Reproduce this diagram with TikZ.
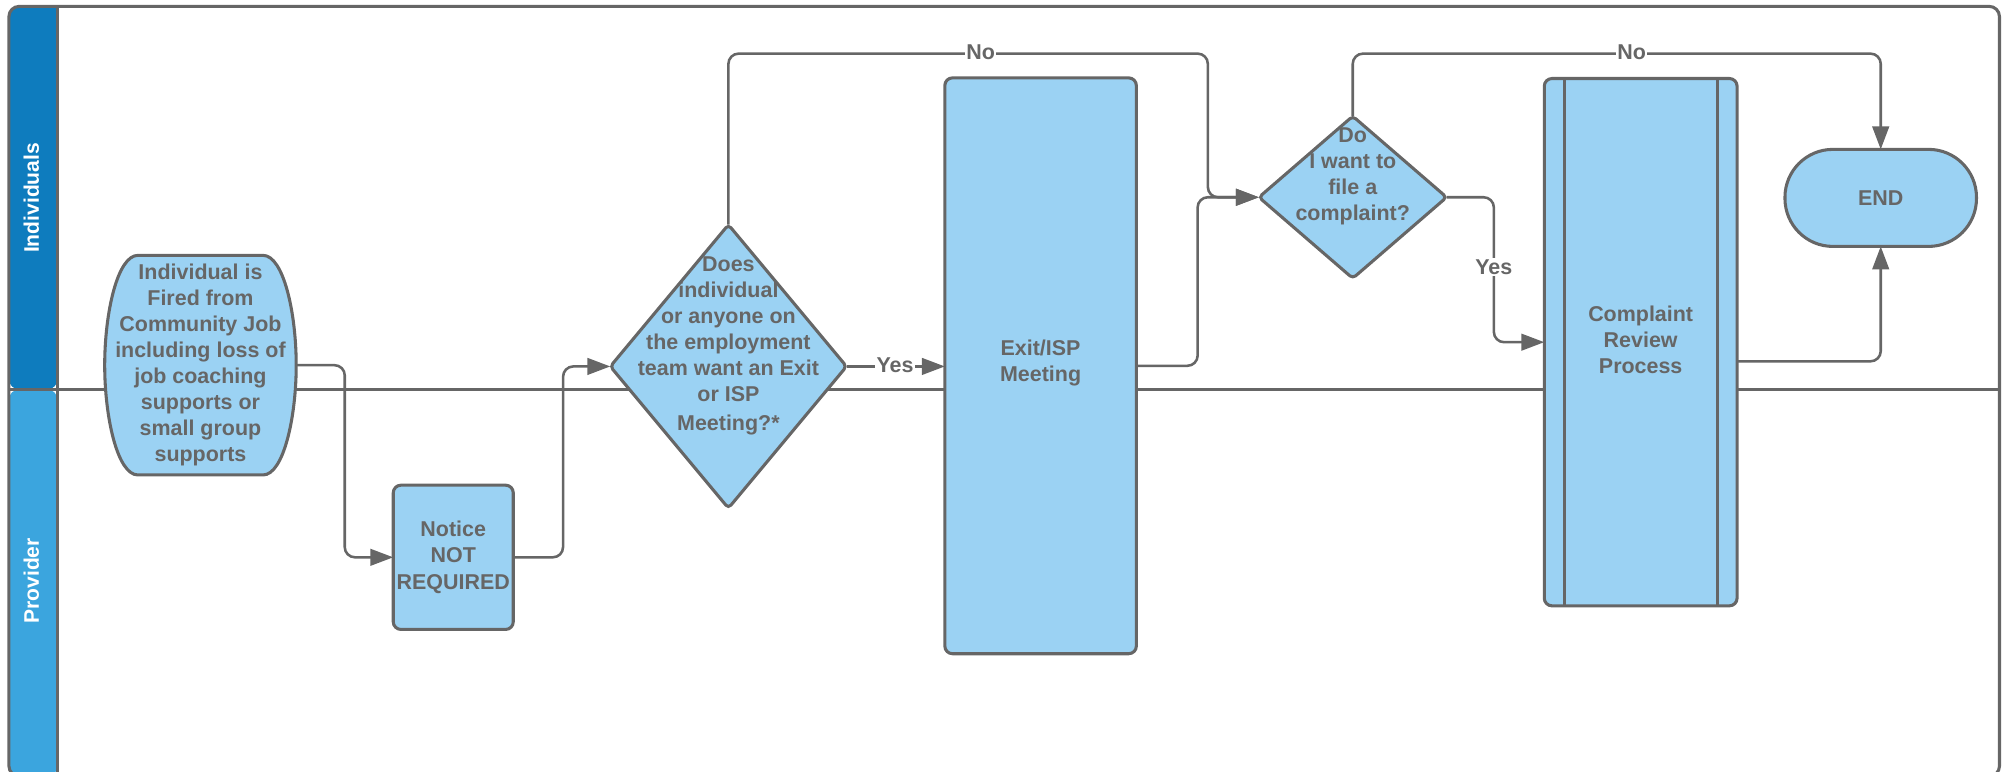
\documentclass[tikz,border=0pt]{standalone}
\usepackage{fontspec}
\setmainfont{Liberation Sans}
\usetikzlibrary{arrows.meta,shapes.geometric,calc}
\definecolor{lgray}{RGB}{102,102,102}
\definecolor{hdark}{RGB}{14,124,190}
\definecolor{hlight}{RGB}{59,165,222}
\definecolor{nfill}{RGB}{155,210,243}
\tikzset{
  box/.style={draw=lgray, fill=nfill, line width=2.4pt, inner sep=0pt, outer sep=0pt, align=center},
  conn/.style={draw=lgray, line width=2pt, rounded corners=8pt, -{Triangle[length=18pt,width=13pt]}},
  lbl/.style={fill=white, inner sep=1pt, text=lgray},
  txt/.style={align=center, inner sep=0pt, text=lgray},
  lanetxt/.style={text=white, font=\bfseries\fontsize{16.5}{20}\selectfont, rotate=90, inner sep=0pt},
  frameline/.style={draw=lgray, line width=2.4pt}
}
\begin{document}
\begin{tikzpicture}[x=1pt, y=-1pt, font=\bfseries\fontsize{16.8}{20.4}\selectfont, text=lgray]
\useasboundingbox (0,0) rectangle (1568,604);
\clip (0,0) rectangle (1568,604);

% lane headers
\fill[hdark, rounded corners=8pt] (7,305) -- (7,5) -- (45,5) -- (45,305) -- cycle;
\fill[hlight, rounded corners=8pt] (7,305) -- (7,608) -- (45,608) -- (45,305) -- cycle;
\fill[hdark] (20,5) rectangle (45,20);
% frame
\draw[frameline, rounded corners=8pt] (7,608) -- (7,5) -- (1566,5) -- (1566,608) -- cycle;
\draw[frameline] (45,5) -- (45,608);
\draw[frameline] (7,305) -- (1566,305);
\node[lanetxt] (laneI) at (24.5,155) {Individuals};
\node[lanetxt] (laneP) at (24.5,455) {Provider};

% start node (outline drawn directly)
\draw[box] (108,200) -- (206,200)
  .. controls (222,200) and (232,245) .. (232,286)
  .. controls (232,327) and (222,372) .. (206,372)
  -- (108,372)
  .. controls (92,372) and (82,327) .. (82,286)
  .. controls (82,245) and (92,200) .. (108,200) -- cycle;
\node[txt, minimum width=150pt, minimum height=172pt, outer sep=0pt] (start) at (157,286)
  {Individual is\\Fired from\\Community Job\\including loss of\\job coaching\\supports or\\small group\\supports};

% notice
\node[box, rounded corners=6pt, minimum width=94pt, minimum height=113pt] (notice) at (355,436.5)
  {Notice\\NOT\\REQUIRED};

% decision 1
\node[box, diamond, minimum width=185pt, minimum height=222pt, rounded corners=3pt] (d1) at (570.5,287) {};
\node[txt] (d1t) at (570.5,271)
  {Does\\individual\\or anyone on\\the employment\\team want an Exit\\or ISP\\[2.5pt]Meeting?*};

% exit meeting
\node[box, rounded corners=6pt, minimum width=150pt, minimum height=451pt] (exit) at (815,286.5) {};
\node[txt] (exitt) at (815,284.5) {Exit/ISP\\Meeting};

% decision 2
\node[box, diamond, minimum width=147pt, minimum height=127pt, rounded corners=3pt] (d2) at (1059.5,154.5) {};
\node[txt] (d2t) at (1059.5,138) {Do\\I want to\\file a\\complaint?};

% complaint review process
\node[box, rounded corners=6pt, minimum width=151pt, minimum height=413pt] (crp) at (1285,268) {};
\draw[lgray, line width=2.4pt] ($(crp.north west)+(15.5,0)$) -- ($(crp.south west)+(15.5,0)$);
\draw[lgray, line width=2.4pt] ($(crp.north east)+(-15,0)$) -- ($(crp.south east)+(-15,0)$);
\node[txt] (crpt) at (1285,266) {Complaint\\Review\\Process};

% end
\node[box, rounded corners=37.5pt, minimum width=150pt, minimum height=76pt] (end) at (1473,155) {END};

% connectors
\coordinate (n1) at (946,42);
\coordinate (n2) at (1473,42);
\draw[conn] (start.east) -- ++(38,0) |- (notice.west);
\draw[conn] (notice.east) -- ++(39,0) |- (d1.west);
\draw[conn] (d1.east) -- (d1.east -| exit.west);
\draw[conn] (d1.north) |- (n1) |- (d2.west);
\draw[conn] (exit.east) -- ++(48,0) |- (d2.west);
\draw[conn] (d2.east) -- ++(37,0) |- (crp.west);
\draw[conn] (d2.north) |- (n2) -- (end.north);
\draw[conn] ($(crp.east)+(0,15)$) -| (end.south);

% connector labels
\node[lbl] (yes1) at (701,286) {Yes};
\node[lbl] (no1) at (768,41) {No};
\node[lbl] (yes2) at (1170,209) {Yes};
\node[lbl] (no2) at (1278,41) {No};
\end{tikzpicture}
\end{document}
